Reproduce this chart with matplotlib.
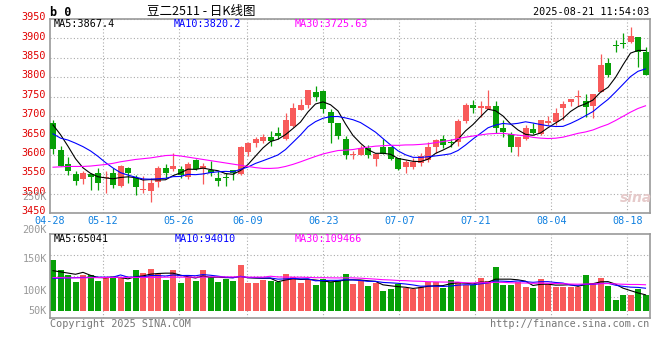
import numpy as np
import pandas as pd
import matplotlib
matplotlib.use('Agg')
import matplotlib.pyplot as plt
from matplotlib.transforms import ScaledTranslation

# daily candles 2025-04-28 .. 2025-08-21 (80 trading days)
opens = [3683, 3612, 3576, 3551, 3538, 3550, 3554, 3541, 3552, 3520,
         3565, 3539, 3508, 3507, 3531, 3566, 3563, 3563, 3542, 3587,
         3563, 3561, 3541, 3541, 3561, 3551, 3606, 3630, 3636, 3645,
         3657, 3641, 3674, 3715, 3728, 3763, 3764, 3711, 3683, 3641,
         3599, 3600, 3617, 3588, 3619, 3619, 3593, 3568, 3569, 3578,
         3587, 3619, 3642, 3632, 3634, 3687, 3728, 3720, 3717, 3726,
         3668, 3654, 3619, 3642, 3667, 3653, 3681, 3685, 3720, 3735,
         3750, 3739, 3727, 3763, 3836, 3882, 3888, 3892, 3903, 3866]
highs = [3690, 3623, 3595, 3557, 3558, 3553, 3565, 3557, 3565, 3575,
         3568, 3548, 3545, 3539, 3571, 3577, 3604, 3571, 3582, 3588,
         3578, 3584, 3559, 3552, 3562, 3623, 3634, 3647, 3654, 3662,
         3672, 3709, 3733, 3743, 3767, 3777, 3767, 3717, 3683, 3648,
         3611, 3625, 3625, 3601, 3642, 3619, 3593, 3587, 3591, 3604,
         3634, 3642, 3651, 3642, 3691, 3734, 3740, 3739, 3767, 3739,
         3690, 3660, 3647, 3676, 3681, 3690, 3701, 3720, 3739, 3744,
         3767, 3756, 3756, 3859, 3849, 3896, 3913, 3930, 3904, 3877]
lows = [3601, 3570, 3548, 3522, 3525, 3509, 3509, 3501, 3514, 3516,
        3528, 3496, 3501, 3479, 3516, 3540, 3559, 3539, 3538, 3561,
        3526, 3546, 3520, 3520, 3535, 3549, 3597, 3621, 3631, 3623,
        3642, 3638, 3672, 3715, 3721, 3739, 3707, 3631, 3640, 3588,
        3588, 3600, 3591, 3571, 3601, 3586, 3561, 3554, 3563, 3571,
        3582, 3604, 3617, 3621, 3623, 3681, 3707, 3698, 3717, 3657,
        3645, 3606, 3598, 3638, 3653, 3651, 3677, 3677, 3690, 3727,
        3727, 3698, 3696, 3763, 3801, 3864, 3874, 3887, 3827, 3806]
closes = [3615, 3572, 3558, 3533, 3554, 3544, 3528, 3543, 3522, 3571,
          3552, 3518, 3512, 3528, 3566, 3554, 3571, 3548, 3576, 3563,
          3571, 3552, 3533, 3539, 3554, 3619, 3630, 3641, 3645, 3636,
          3648, 3690, 3720, 3728, 3767, 3750, 3717, 3683, 3648, 3600,
          3601, 3617, 3600, 3601, 3601, 3588, 3563, 3582, 3582, 3597,
          3619, 3638, 3625, 3630, 3687, 3728, 3720, 3726, 3726, 3668,
          3660, 3619, 3647, 3670, 3655, 3690, 3687, 3707, 3730, 3744,
          3752, 3724, 3756, 3831, 3806, 3880, 3886, 3907, 3866, 3806]
# volume in lots
volumes = [212, 171, 150, 122, 150, 150, 126, 143, 139, 139,
           122, 171, 160, 175, 153, 129, 171, 118, 143, 126,
           171, 143, 122, 133, 126, 193, 118, 115, 129, 126,
           122, 154, 140, 115, 129, 108, 132, 122, 129, 154,
           112, 129, 106, 115, 83, 92, 111, 94, 90, 101,
           119, 122, 97, 129, 122, 108, 108, 136, 126, 185,
           108, 108, 122, 99, 94, 133, 112, 101, 101, 101,
           99, 150, 118, 139, 106, 46, 67, 67, 90, 67]
volumes = [v * 1000 for v in volumes]

# moving-average values before a full window exists
ma5_head = [3677, 3652, 3622, 3590]
ma10_head = [3654, 3643, 3638, 3630, 3621, 3610, 3596, 3580, 3566]
ma30_head = [3568, 3569, 3570, 3570, 3570, 3571, 3573, 3575, 3578, 3582,
             3585, 3588, 3590, 3592, 3595, 3598, 3599, 3597, 3594, 3591,
             3588, 3585, 3582, 3579, 3576, 3573, 3570, 3567, 3565]
vma5_head = [168000, 163000, 158000, 153000]
vma10_head = [136000, 137000, 138000, 139000, 140000, 140000, 141000, 141000, 141000]
vma30_head = [139000, 139000, 138000, 138000, 138000, 139000, 139000, 140000, 140000, 140000,
              140000, 140000, 140000, 140000, 140000, 141000, 141000, 141000, 141000, 141000,
              141000, 142000, 142000, 142000, 142000, 142000, 141000, 141000, 141000]

tick_idx = [0, 7, 17, 26, 36, 46, 56, 66, 76]
tick_labels = ['04-28', '05-12', '05-26', '06-09', '06-23', '07-07', '07-21', '08-04', '08-18']
price_ticks = [3450, 3500, 3550, 3600, 3650, 3700, 3750, 3800, 3850, 3900, 3950]
vol_labels = ['250K', '200K', '150K', '100K', '50K']

RED = '#f85a5a'
GREEN = '#07a007'
GRID = '#aaaaaa'
MONO = 'DejaVu Sans Mono'


def moving_avg(values, n, head):
    s = pd.Series(values, dtype=float).rolling(n).mean().to_numpy()
    s[:n - 1] = head
    return s


def px(x, y):
    return x / 660, 1 - y / 360


n = len(closes)
x = np.arange(n)
up = [c >= o for o, c in zip(opens, closes)]
colors = [RED if u else GREEN for u in up]

fig = plt.figure(figsize=(6.6, 3.6), dpi=100)
ax = fig.add_axes([50 / 660, 1 - 213 / 360, 600 / 660, 194 / 360])
axv = fig.add_axes([50 / 660, 1 - 318 / 360, 600 / 660, 84 / 360])

for a in (ax, axv):
    a.set_xlim(-0.4, n - 0.4)
    for s in a.spines.values():
        s.set_color('#999999')
        s.set_linewidth(1.2)
    a.set_xticks([])
    # vertical grid follows the date labels across the panel width
    for i in tick_idx[1:]:
        a.plot([i / (n - 1)] * 2, [0, 1], transform=a.transAxes,
               color=GRID, lw=0.8, ls=(0, (1, 2)), zorder=0)

# price panel
ax.set_ylim(3450, 3950)
ax.set_yticks(price_ticks)
ax.set_yticklabels([str(t) for t in price_ticks], family=MONO, fontsize=7.3, color='#e00000')
ax.tick_params(axis='y', length=0, pad=3)
shift = ScaledTranslation(0, 2 / 72, fig.dpi_scale_trans)
for lab in ax.get_yticklabels():
    lab.set_transform(lab.get_transform() + shift)
ax.grid(axis='y', color=GRID, lw=0.8, ls=(0, (1, 2)), zorder=0)

body_lo = np.minimum(opens, closes)
body_h = np.maximum(np.abs(np.array(closes) - np.array(opens)), 2.5)
ax.vlines(x, lows, highs, colors=colors, lw=0.9, zorder=2)
ax.bar(x, body_h, bottom=body_lo, width=0.8, color=colors, zorder=3)

ax.plot(x, moving_avg(closes, 5, ma5_head), color='black', lw=0.8, zorder=4)
ax.plot(x, moving_avg(closes, 10, ma10_head), color='#0000ff', lw=0.8, zorder=4)
ax.plot(x, moving_avg(closes, 30, ma30_head), color='#ff00ff', lw=0.8, zorder=4)

for i, lab in zip(tick_idx, tick_labels):
    ax.text(i / (n - 1), -8 / 194, lab, transform=ax.transAxes, ha='center', va='center',
            family=MONO, fontsize=7.3, color='#1080e0')

# volume panel
axv.set_ylim(-29.2e3, 320.8e3)
axv.set_yticks([])
for f in (0.25, 0.5, 0.75):
    axv.plot([0, 1], [f, f], transform=axv.transAxes, color=GRID, lw=0.8, ls=(0, (1, 2)), zorder=0)
axv.bar(x, volumes, width=0.8, color=colors, zorder=2)
axv.plot(x, moving_avg(volumes, 5, vma5_head), color='black', lw=0.8, zorder=3)
axv.plot(x, moving_avg(volumes, 10, vma10_head), color='#0000ff', lw=0.8, zorder=3)
axv.plot(x, moving_avg(volumes, 30, vma30_head), color='#ff00ff', lw=0.8, zorder=3)

# texts
fig.text(*px(50, 12), 'b 0', family=MONO, fontsize=8.5, weight='bold', va='center')
fig.text(*px(201, 11), '豆二2511 - 日K线图', family=['Noto Sans CJK SC', 'DejaVu Sans'],
         fontsize=9, ha='center', va='center')
fig.text(*px(649, 12), '2025-08-21 11:54:03', family=MONO, fontsize=7.3, ha='right', va='center')

for xp, txt, col in [(54, 'MA5:3867.4', 'black'), (174, 'MA10:3820.2', '#0000ff'),
                     (295, 'MA30:3725.63', '#ff00ff')]:
    fig.text(*px(xp, 24), txt, family=MONO, fontsize=7.3, color=col, va='center')
for xp, txt, col in [(54, 'MA5:65041', 'black'), (175, 'MA10:94010', '#0000ff'),
                     (295, 'MA30:109466', '#ff00ff')]:
    fig.text(*px(xp, 239), txt, family=MONO, fontsize=7.3, color=col, va='center')

for yp, txt in zip([197, 230, 259, 291, 311], vol_labels):
    fig.text(*px(47, yp), txt, family=MONO, fontsize=7.3, color='#999999', ha='right', va='center')

fig.text(*px(50, 324), 'Copyright 2025 SINA.COM', family=MONO, fontsize=7.3, color='#777777', va='center')
fig.text(*px(649, 324), 'http://finance.sina.com.cn', family=MONO, fontsize=7.3, color='#777777',
         ha='right', va='center')
fig.text(*px(636, 198), 'sina', fontsize=10, style='italic', weight='bold', color='#e6caca',
         ha='center', va='center')

fig.savefig('out.png', dpi=100, facecolor='white')
